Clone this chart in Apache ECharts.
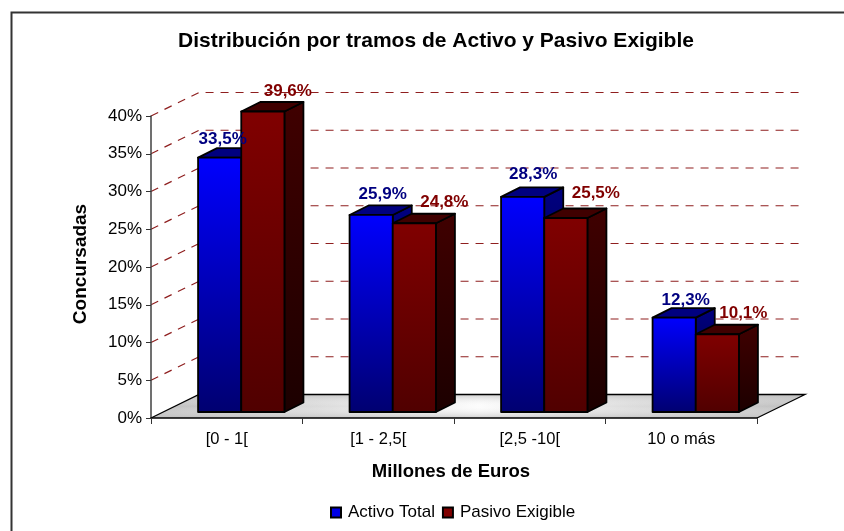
<!DOCTYPE html>
<html>
<head>
<meta charset="utf-8">
<style>html,body{margin:0;padding:0;background:#fff}#c{width:844px;height:531px}</style>
<script src="https://cdn.jsdelivr.net/npm/echarts@6/dist/echarts.min.js"></script>
</head>
<body>
<div id="c"></div>
<script>
const categories = ['[0 - 1[', '[1 - 2,5[', '[2,5 -10[', '10 o más'];
const activoTotal = [33.5, 25.9, 28.3, 12.3];
const pasivoExigible = [39.6, 24.8, 25.5, 10.1];
const yTicks = [5, 10, 15, 20, 25, 30, 35, 40];

// layout of the 3D look (pixels)
const WALL = { dx: 48, dy: 23.5 };
const BAR_DEPTH = { dx: 19, dy: 9.5 };
const BAR_INSET = { dx: 14.5, dyTop: 7.5, dyBottom: 6 };
const BAR_BAND_RATIO = 0.285;
const FONT = '"Liberation Sans", Arial, sans-serif';
const LABEL_SHIFT_ACTIVO = [[3, -18.5], [11.5, -20.5], [10.5, -22.5], [11.5, -17.5]];
const LABEL_SHIFT_PASIVO = [[25, -20.5], [30, -20.5], [30, -24.5], [26, -20.5]];

const chart = echarts.init(document.getElementById('c'), null, { renderer: 'canvas' });

function poly(points, fill, z2) {
  return { type: 'polygon', z2, shape: { points },
    style: { fill, stroke: '#000', lineWidth: 1.8, lineJoin: 'round' } };
}
function grad(top, bottom) {
  return new echarts.graphic.LinearGradient(0, 0, 0, 1, [{ offset: 0, color: top }, { offset: 1, color: bottom }]);
}

function barRenderer(slot, cols, shifts, labelColor) {
  return function (params, api) {
    const i = api.value(0);
    const v = api.value(1);
    const top = api.coord([i, v]);
    const base = api.coord([i, 0]);
    const band = api.size([1, 0])[0];
    const w = band * BAR_BAND_RATIO;
    const x0 = top[0] + BAR_INSET.dx + (slot - 1) * w;
    const x1 = x0 + w;
    const yT = top[1] - BAR_INSET.dyTop;
    const yB = base[1] - BAR_INSET.dyBottom;
    const d = BAR_DEPTH;
    const shift = shifts[i];
    return {
      type: 'group',
      children: [
        poly([[x1, yT], [x1 + d.dx, yT - d.dy], [x1 + d.dx, yB - d.dy], [x1, yB]], grad(cols.sideTop, cols.sideBottom), 10 + slot),
        poly([[x0, yT], [x0 + d.dx, yT - d.dy], [x1 + d.dx, yT - d.dy], [x1, yT]], cols.cap, 10 + slot),
        poly([[x0, yT], [x1, yT], [x1, yB], [x0, yB]], grad(cols.frontTop, cols.frontBottom), 10 + slot),
        { type: 'text', z2: 100,
          style: { text: String(v).replace('.', ',') + '%', x: x0 + w / 2 + shift[0], y: yT + shift[1],
            align: 'center', verticalAlign: 'middle', fill: labelColor, font: 'bold 17px ' + FONT } }
      ]
    };
  };
}

function floorRenderer(params, api) {
  const c = params.coordSys;
  const b = c.y + c.height;
  const pts = [[c.x, b], [c.x + WALL.dx, b - WALL.dy], [c.x + c.width + WALL.dx, b - WALL.dy], [c.x + c.width, b]];
  const horiz = new echarts.graphic.LinearGradient(0, 0, 1, 0, [
    { offset: 0, color: '#bdbdbd' }, { offset: 0.25, color: '#dadada' }, { offset: 0.5, color: '#fcfcfc' },
    { offset: 0.75, color: '#dadada' }, { offset: 1, color: '#bdbdbd' }]);
  const vert = new echarts.graphic.LinearGradient(0, 0, 0, 1, [
    { offset: 0, color: 'rgba(190,190,190,0.7)' }, { offset: 0.5, color: 'rgba(255,255,255,0)' },
    { offset: 1, color: 'rgba(190,190,190,0.7)' }]);
  return { type: 'group', children: [
    { type: 'polygon', shape: { points: pts }, style: { fill: horiz } },
    { type: 'polygon', shape: { points: pts }, style: { fill: vert } },
    { type: 'polyline', shape: { points: [pts[3], pts[2], pts[1], pts[0]] }, style: { fill: 'none', stroke: '#000', lineWidth: 1.3 } }
  ] };
}

function wallRenderer(params, api) {
  const v = api.value(1);
  const c = params.coordSys;
  const y = api.coord([0, v])[1];
  return { type: 'polyline',
    shape: { points: [[c.x, y], [c.x + WALL.dx, y - WALL.dy], [c.x + c.width + WALL.dx, y - WALL.dy]] },
    style: { stroke: '#8f1f1f', lineWidth: 1.2, lineDash: [8, 7], fill: 'none' } };
}

chart.setOption({
  animation: false,
  backgroundColor: '#fff',
  title: {
    text: 'Distribución por tramos de Activo y Pasivo Exigible',
    left: 431, top: 26, textAlign: 'center',
    textStyle: { fontFamily: FONT, fontWeight: 'bold', fontSize: 21, color: '#000' }
  },
  legend: {
    left: 325, top: 499, itemWidth: 10, itemHeight: 10, itemGap: 7, icon: 'rect',
    data: ['Activo Total', 'Pasivo Exigible'],
    textStyle: { fontFamily: FONT, fontSize: 17, color: '#000', padding: [0, 0, 0, 2] }
  },
  grid: { left: 151, top: 116, width: 606, height: 302 },
  xAxis: {
    type: 'category', data: categories, z: 5,
    boundaryGap: true,
    name: 'Millones de Euros', nameLocation: 'middle', nameGap: 44,
    nameTextStyle: { fontFamily: FONT, fontWeight: 'bold', fontSize: 18.5, color: '#000', align: 'center', padding: [0, 6, 0, 0] },
    axisLine: { show: true, lineStyle: { color: '#000', width: 1.5 } },
    axisTick: { show: true, alignWithLabel: false, length: 6, lineStyle: { color: '#333', width: 1 } },
    axisLabel: { fontFamily: FONT, fontSize: 16.5, color: '#000', margin: 13 }
  },
  yAxis: {
    type: 'value', min: 0, max: 40, interval: 5, z: 5,
    name: 'Concursadas', nameLocation: 'middle', nameGap: 61, nameRotate: 90,
    nameTextStyle: { fontFamily: FONT, fontWeight: 'bold', fontSize: 19, color: '#000', padding: [0, 0, 0, 6] },
    axisLine: { show: true, lineStyle: { color: '#404040', width: 1.5 } },
    axisTick: { show: true, length: 5, lineStyle: { color: '#333', width: 1 } },
    axisLabel: { fontFamily: FONT, fontSize: 17, color: '#000', margin: 9, formatter: '{value}%' },
    splitLine: { show: false }
  },
  series: [
    { type: 'custom', name: 'suelo', z: 1, silent: true, data: [[0, 0]], renderItem: floorRenderer,
      encode: { x: 0, y: 1 }, clip: false },
    { type: 'custom', name: 'rejilla', z: 1, silent: true, data: yTicks.map(v => [0, v]), renderItem: wallRenderer,
      encode: { x: 0, y: 1 }, clip: false },
    { type: 'custom', name: 'Activo Total', z: 3, clip: false,
      itemStyle: { color: '#0000e6', borderColor: '#000', borderWidth: 1 },
      data: activoTotal.map((v, i) => [i, v]), encode: { x: 0, y: 1 },
      renderItem: barRenderer(0, { frontTop: '#0000ff', frontBottom: '#000070', sideTop: '#000080', sideBottom: '#000030', cap: '#000080' }, LABEL_SHIFT_ACTIVO, '#000080') },
    { type: 'custom', name: 'Pasivo Exigible', z: 3, clip: false,
      itemStyle: { color: '#800000', borderColor: '#000', borderWidth: 1 },
      data: pasivoExigible.map((v, i) => [i, v]), encode: { x: 0, y: 1 },
      renderItem: barRenderer(1, { frontTop: '#800000', frontBottom: '#500000', sideTop: '#400000', sideBottom: '#1c0000', cap: '#400000' }, LABEL_SHIFT_PASIVO, '#800000') }
  ],
  graphic: [
    { type: 'polyline', silent: true, shape: { points: [[11.5, 531], [11.5, 12.5], [844, 12.5]] },
      style: { fill: 'none', stroke: '#333', lineWidth: 2 } }
  ]
});
</script>
</body>
</html>
